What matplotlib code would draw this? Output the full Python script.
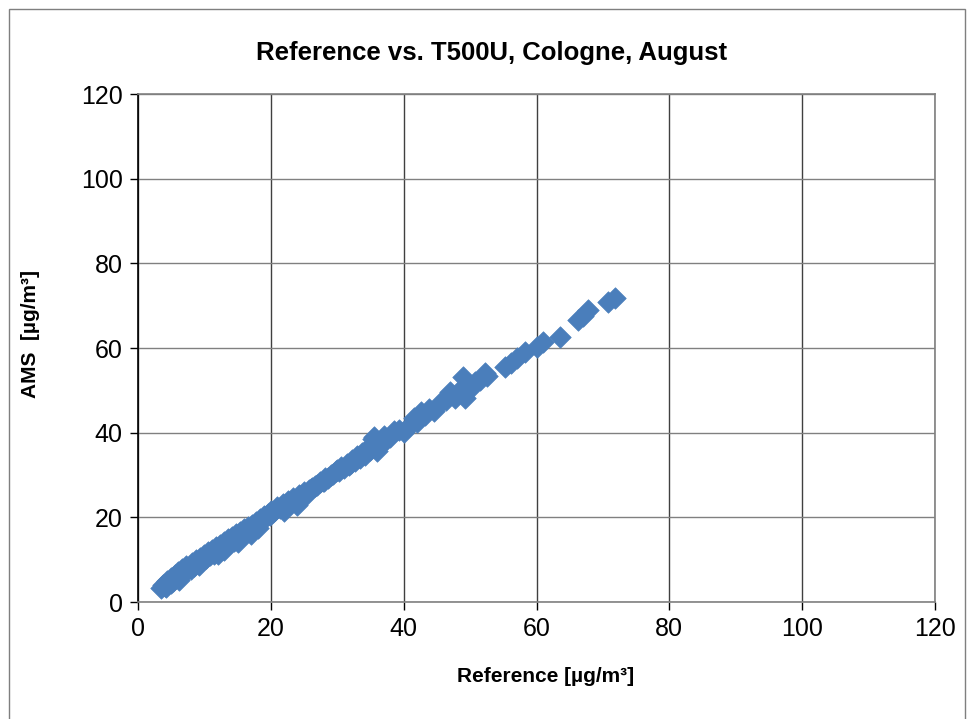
import matplotlib
matplotlib.use("Agg")
import matplotlib.pyplot as plt
from matplotlib.patches import Rectangle

plt.rcParams['font.family'] = ['Liberation Sans', 'DejaVu Sans']

title = "Reference vs. T500U, Cologne, August"
x_label = "Reference [µg/m³]"
y_label = "AMS  [µg/m³]"
ticks = [0, 20, 40, 60, 80, 100, 120]

reference = [
    3.5, 3.8, 4.0, 4.3, 4.6, 4.9, 5.2, 5.5, 5.8, 6.0, 6.3, 6.6, 6.9, 7.2, 7.5,
    7.8, 8.1, 8.4, 8.7, 9.0, 9.3, 9.6, 9.9, 10.2, 10.5, 10.8, 11.1, 11.4, 11.7, 12.0,
    12.3, 12.6, 12.9, 13.2, 13.5, 13.8, 14.1, 14.4, 14.7, 15.0, 15.3, 15.6, 15.9, 16.2,
    16.5, 16.8, 17.1, 17.4, 17.7, 18.0, 18.3, 18.6, 18.9, 19.2, 19.5, 19.8, 20.1, 20.4,
    20.7, 21.0, 21.4, 21.8, 22.2, 22.6, 23.0, 23.4, 23.8, 24.2, 24.6, 25.0, 25.4, 25.8,
    26.2, 26.6, 27.0, 27.4, 27.8, 28.2, 28.6, 29.0, 29.4, 29.8, 30.2, 30.6, 31.0, 31.4,
    31.8, 32.2, 32.6, 33.0, 33.4, 33.8, 34.2, 34.6, 35.0, 35.4, 35.8, 36.2, 36.6, 37.0,
    37.5, 38.0, 38.6, 39.3, 40.0, 40.8, 41.5, 42.0, 42.6, 43.2, 43.8, 44.5, 45.5, 46.3,
    47.0, 47.8, 48.5, 48.9, 49.2, 49.6, 50.2, 50.8, 51.5, 52.2, 52.6, 55.3, 56.2, 57.0,
    58.3, 60.0, 61.0, 63.5, 66.2, 67.0, 67.8, 70.8, 71.8,
    4.2, 5.0, 6.1, 7.0, 8.0, 9.2, 10.0, 11.0, 12.1, 13.0, 14.0, 15.1, 16.0, 17.0,
    18.1, 19.0, 22.0, 24.0, 26.0, 28.0, 30.0, 32.0, 34.0, 35.2, 35.6, 36.0, 36.8,
]
ams = [
    3.2, 4.0, 3.7, 4.9, 4.5, 5.6, 5.0, 6.4, 6.0, 7.2, 6.5, 7.8, 7.0, 8.6, 7.9,
    8.6, 9.2, 8.5, 9.9, 9.1, 10.4, 9.6, 11.0, 10.3, 11.8, 11.0, 12.4, 11.3, 12.9, 12.2,
    13.5, 12.6, 14.2, 13.1, 14.8, 13.9, 15.4, 14.3, 16.0, 15.2, 16.6, 16.0, 17.2, 16.8,
    17.6, 17.3, 18.3, 18.0, 18.9, 18.6, 19.6, 19.3, 20.3, 20.0, 20.8, 20.6, 21.5, 21.2,
    21.8, 22.4, 22.3, 23.1, 22.9, 23.8, 23.4, 24.6, 24.1, 25.3, 25.0, 25.9, 25.6, 26.5,
    26.9, 27.3, 27.6, 28.3, 28.7, 29.2, 29.4, 30.1, 30.3, 31.0, 30.9, 31.8, 31.6, 32.7,
    32.4, 33.6, 33.2, 34.6, 34.0, 35.3, 34.8, 36.2, 36.0, 38.5, 37.3, 36.6, 38.2, 39.3,
    38.4, 39.0, 40.3, 40.6, 40.2, 41.5, 43.5, 42.6, 45.0, 44.1, 45.6, 45.2, 47.0, 47.6,
    49.5, 48.2, 50.0, 53.2, 48.2, 51.6, 50.6, 52.0, 52.4, 54.1, 53.3, 55.5, 56.5, 57.6,
    59.1, 60.2, 61.4, 62.6, 66.6, 67.6, 69.0, 70.9, 71.8,
    3.6, 4.6, 5.3, 7.6, 7.9, 8.8, 10.9, 11.6, 11.4, 12.2, 14.5, 14.1, 16.4, 16.0,
    17.4, 19.9, 21.4, 23.0, 26.7, 28.6, 31.2, 32.8, 35.5, 37.2, 39.0, 35.6, 37.8,
]

fig = plt.figure(figsize=(9.72, 7.19), dpi=100)

fig.patches.append(Rectangle((9 / 972, -0.01), (965 - 9) / 972, (719 - 9) / 719 + 0.01,
                             transform=fig.transFigure, fill=False,
                             edgecolor='#7f7f7f', linewidth=1.0))

ax = fig.add_axes([138 / 972, (719 - 602) / 719, (935 - 138) / 972, (602 - 94) / 719])
ax.scatter(reference, ams, marker='D', s=120, color='#4A7EBB', edgecolors='#4A7EBB',
           linewidths=0.5, zorder=3)

ax.set_xlim(0, 120)
ax.set_ylim(0, 120)
ax.set_xticks(ticks)
ax.set_yticks(ticks)
ax.tick_params(axis='both', direction='out', length=6, width=1, color='black',
               labelsize=18, pad=5)
ax.xaxis.grid(True, color='#404040', linewidth=1)
ax.yaxis.grid(True, color='#808080', linewidth=1)
ax.set_axisbelow(True)
for side in ['left', 'bottom', 'top', 'right']:
    ax.spines[side].set_color('#808080')
    ax.spines[side].set_linewidth(1.2)
ax.spines['left'].set_color('black')

fig.text(492 / 972, 1 - 53 / 719, title, ha='center', va='center',
         fontsize=18.5, fontweight='bold')
fig.text(546 / 972, 1 - 677 / 719, x_label, ha='center', va='center',
         fontsize=15, fontweight='bold')
fig.text(31 / 972, 1 - 334 / 719, y_label, ha='center', va='center',
         fontsize=15, fontweight='bold', rotation=90)

fig.savefig('out.png', dpi=100)
